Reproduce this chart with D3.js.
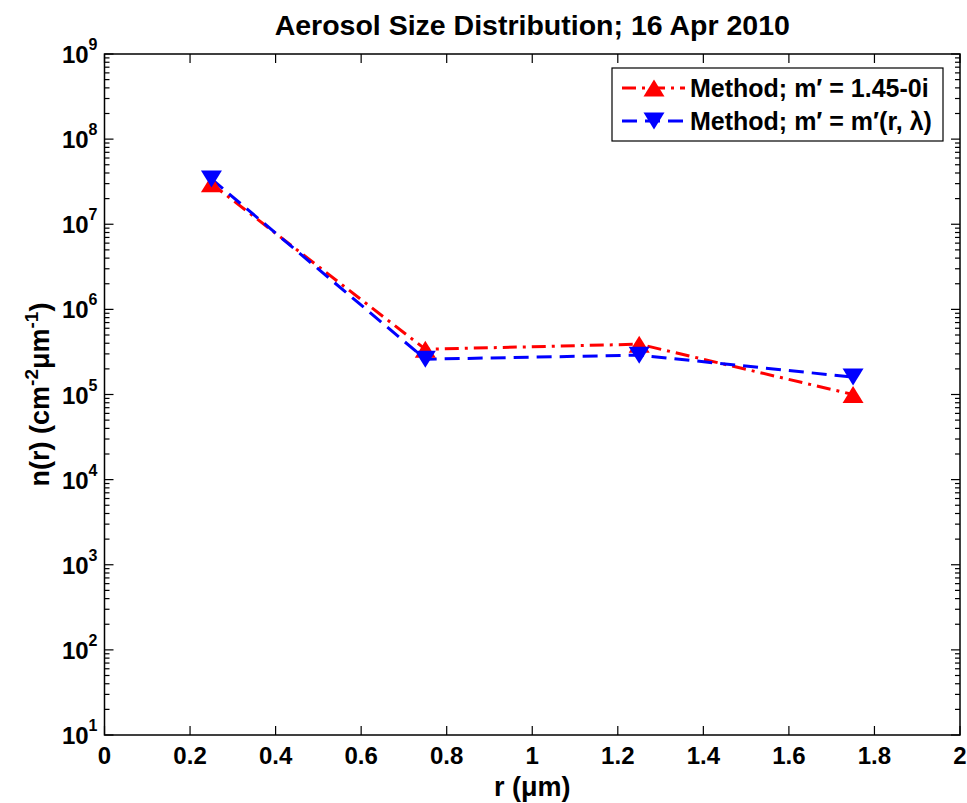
<!DOCTYPE html>
<html>
<head>
<meta charset="utf-8">
<script src="https://cdn.jsdelivr.net/npm/d3@7"></script>
<style>
  body { margin: 0; background: #fff; }
  text { font-family: "Liberation Sans", Arial, sans-serif; font-weight: bold; fill: #000; }
</style>
</head>
<body>
<div id="chart"></div>
<script>
// data
const radius = [0.25, 0.75, 1.25, 1.75];
const fixedIndex = [3.0e7, 3.4e5, 3.9e5, 1.0e5];   // m' = 1.45-0i
const variableIndex = [3.4e7, 2.6e5, 2.9e5, 1.6e5]; // m' = m'(r, λ)
const xTicks = [0, 0.2, 0.4, 0.6, 0.8, 1, 1.2, 1.4, 1.6, 1.8, 2];
const yExponents = [1, 2, 3, 4, 5, 6, 7, 8, 9];
const seriesNames = ["Method; m\u2032 = 1.45-0i", "Method; m\u2032 = m\u2032(r, \u03bb)"];

const W = 967, H = 803;
const margin = { top: 54, right: 7, bottom: 68, left: 104.5 },
  width = W - margin.left - margin.right,
  height = H - margin.top - margin.bottom;

const svg = d3.select("#chart").append("svg")
  .attr("width", W)
  .attr("height", H);

const g = svg.append("g")
  .attr("transform", `translate(${margin.left},${margin.top})`);

const x = d3.scaleLinear().domain([0, 2]).range([0, width]);
const y = d3.scaleLog().domain([1e1, 1e9]).range([height, 0]);

// minor log ticks
const minor = [];
for (let e = 1; e < 9; e++) {
  for (let k = 2; k <= 9; k++) minor.push(k * Math.pow(10, e));
}

// ticks, inside the box on all four sides
const tickG = g.append("g").attr("stroke", "#000").attr("stroke-width", 1.2);
xTicks.forEach(t => {
  tickG.append("line").attr("x1", x(t)).attr("x2", x(t)).attr("y1", height).attr("y2", height - 9);
  tickG.append("line").attr("x1", x(t)).attr("x2", x(t)).attr("y1", 0).attr("y2", 9);
});
yExponents.forEach(e => {
  const v = Math.pow(10, e);
  tickG.append("line").attr("x1", 0).attr("x2", 9).attr("y1", y(v)).attr("y2", y(v));
  tickG.append("line").attr("x1", width).attr("x2", width - 9).attr("y1", y(v)).attr("y2", y(v));
});
minor.forEach(v => {
  tickG.append("line").attr("x1", 0).attr("x2", 5).attr("y1", y(v)).attr("y2", y(v));
  tickG.append("line").attr("x1", width).attr("x2", width - 5).attr("y1", y(v)).attr("y2", y(v));
});

// box
g.append("rect")
  .attr("width", width).attr("height", height)
  .attr("fill", "none").attr("stroke", "#000").attr("stroke-width", 1.5);

// tick labels
g.selectAll(".xlab")
  .data(xTicks)
  .join("text")
  .attr("class", "xlab")
  .attr("x", d => x(d))
  .attr("y", height + 29)
  .attr("text-anchor", "middle")
  .style("font-size", "24px")
  .text(d => d3.format("~g")(d));

const ylab = g.selectAll(".ylab")
  .data(yExponents)
  .join("text")
  .attr("class", "ylab")
  .attr("x", -7)
  .attr("y", d => y(Math.pow(10, d)) + 9)
  .attr("text-anchor", "end")
  .style("font-size", "24px");
ylab.append("tspan").text("10");
ylab.append("tspan").attr("dy", -13).style("font-size", "16px").text(d => d);

// lines
const line = d3.line()
  .x((d, i) => x(radius[i]))
  .y(d => y(d));

g.append("path")
  .datum(fixedIndex)
  .attr("d", line)
  .attr("fill", "none")
  .attr("stroke", "#ff0000")
  .attr("stroke-width", 3)
  .attr("stroke-dasharray", "14,6,3,6");

g.append("path")
  .datum(variableIndex)
  .attr("d", line)
  .attr("fill", "none")
  .attr("stroke", "#0000ff")
  .attr("stroke-width", 3)
  .attr("stroke-dasharray", "15,8");

const upTri = "M0,-8.5L10.5,8.5L-10.5,8.5Z";
const downTri = "M0,8.5L10.5,-8.5L-10.5,-8.5Z";

g.selectAll(".mk1")
  .data(fixedIndex)
  .join("path")
  .attr("class", "mk1")
  .attr("d", upTri)
  .attr("transform", (d, i) => `translate(${x(radius[i])},${y(d)})`)
  .attr("fill", "#ff0000");

g.selectAll(".mk2")
  .data(variableIndex)
  .join("path")
  .attr("class", "mk2")
  .attr("d", downTri)
  .attr("transform", (d, i) => `translate(${x(radius[i])},${y(d)})`)
  .attr("fill", "#0000ff");

// legend
const leg = svg.append("g").attr("transform", "translate(612,68)");
leg.append("rect")
  .attr("width", 331).attr("height", 73)
  .attr("fill", "#fff").attr("stroke", "#000").attr("stroke-width", 1.2);

const legItems = [
  { name: seriesNames[0], color: "#ff0000", dash: "14,6,3,6", mark: upTri },
  { name: seriesNames[1], color: "#0000ff", dash: "15,8", mark: downTri }
];
legItems.forEach((d, i) => {
  const yy = 20 + i * 33;
  leg.append("line")
    .attr("x1", 10).attr("x2", 73).attr("y1", yy).attr("y2", yy)
    .attr("stroke", d.color).attr("stroke-width", 3).attr("stroke-dasharray", d.dash);
  leg.append("path")
    .attr("d", d.mark)
    .attr("transform", `translate(42,${yy})`)
    .attr("fill", d.color);
  leg.append("text")
    .attr("x", 78).attr("y", yy + 9)
    .style("font-size", "25px")
    .text(d.name);
});

// title and axis labels
svg.append("text")
  .attr("x", margin.left + width / 2)
  .attr("y", 35)
  .attr("text-anchor", "middle")
  .style("font-size", "28.5px")
  .text("Aerosol Size Distribution; 16 Apr 2010");

const xl = svg.append("text")
  .attr("x", margin.left + width / 2)
  .attr("y", 796)
  .attr("text-anchor", "middle")
  .style("font-size", "27px");
xl.append("tspan").text("r (");
xl.append("tspan").text("\u03bcm");
xl.append("tspan").text(")");

const yl = svg.append("text")
  .attr("transform", `translate(49,${margin.top + height / 2}) rotate(-90)`)
  .attr("text-anchor", "middle")
  .style("font-size", "27px");
yl.append("tspan").text("n(r) (cm");
yl.append("tspan").attr("dy", -11).style("font-size", "19px").text("-2");
yl.append("tspan").attr("dy", 11).text("\u03bcm");
yl.append("tspan").attr("dy", -11).style("font-size", "19px").text("-1");
yl.append("tspan").attr("dy", 11).text(")");
</script>
</body>
</html>
